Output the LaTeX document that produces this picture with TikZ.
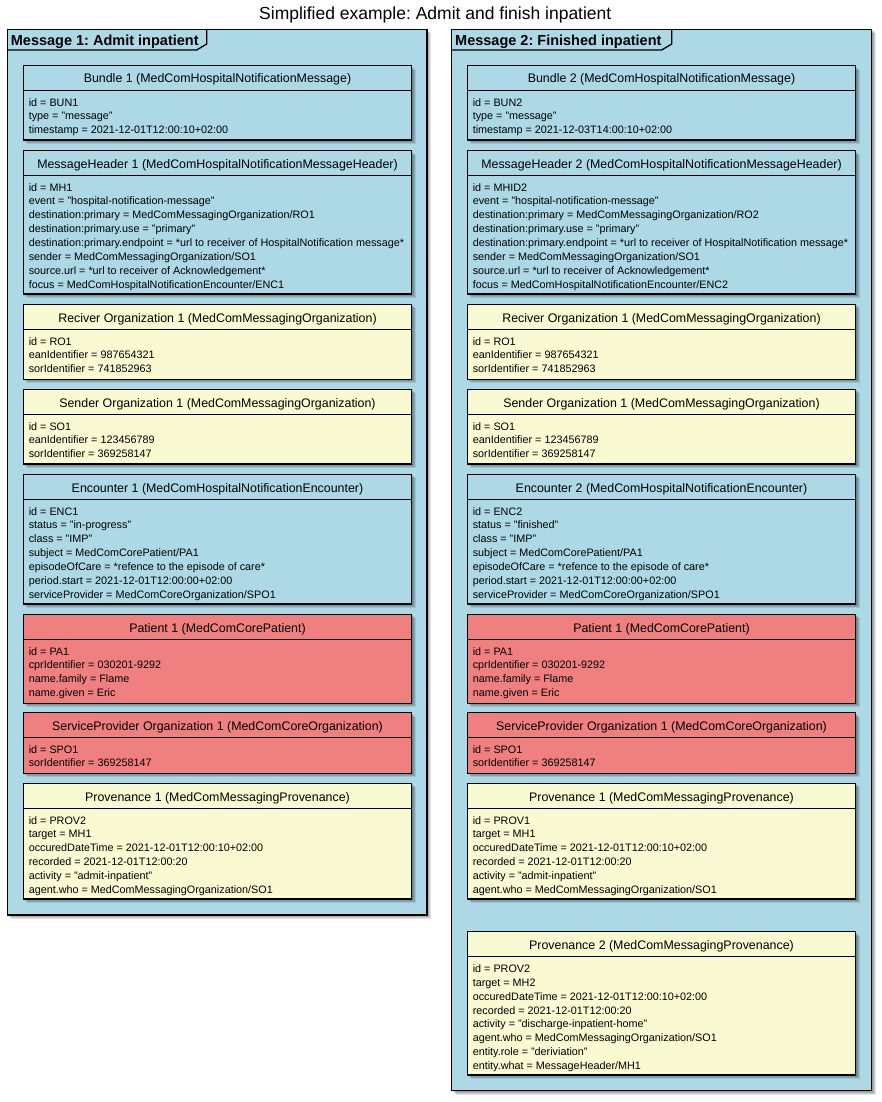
\documentclass[tikz,border=0pt]{standalone}
\usepackage{fontspec}
\setmainfont{Liberation Sans}
\frenchspacing
\definecolor{ublue}{HTML}{ADD8E6}
\definecolor{uyellow}{HTML}{FAFAD2}
\definecolor{ured}{HTML}{F08080}
\tikzset{
  umlframe/.style={draw=black, line width=1.3pt, inner sep=0pt, outer sep=0pt},
  umlline/.style={draw=black, line width=1.3pt},
  umltitle/.style={inner sep=0pt, font=\fontsize{12.4}{15}\selectfont},
  umlbody/.style={inner sep=0pt, font=\fontsize{10.8}{13.86}\selectfont},
  framelabel/.style={inner sep=0pt, font=\fontsize{14.5}{17}\selectfont\bfseries},
  maintitle/.style={inner sep=0pt, font=\fontsize{17.5}{20}\selectfont},
}
% shadow: x0 y0 x1 y1
\newcommand\umlshadow[4]{%
  \foreach \sh/\so in {1/0.12,2/0.12,3/0.12,4/0.10}{%
    \fill[black, opacity=\so] ({#1+\sh},{#2+\sh}) rectangle ({#3+\sh},{#4+\sh});}%
}
% name x0 x1 top sep bottom color title body
\newcommand\umlbox[9]{%
  \umlshadow{#2}{#4}{#3}{#6}%
  \node[umlframe, fill=#7, minimum width={#3-#2}, minimum height={#6-#4}, anchor=north west] (#1) at (#2,#4) {};
  \draw[umlline] (#2,#5) -- (#3,#5);
  \node[umltitle, anchor=base] (#1-title) at ({(#2+#3)/2},{#5-7.3}) {#8};
  \node[umlbody, anchor=base west] (#1-body) at ({#2+5.3},{#5+15.8}) {\begin{tabular}[t]{@{}l@{}}#9\end{tabular}};
}
\begin{document}
\begin{tikzpicture}[x=1pt, y=-1pt]
\useasboundingbox (0,0) rectangle (882,1102);
\fill[white] (0,0) rectangle (882,1102);
\node[maintitle, anchor=base] (title) at (435.3,19.3) {Simplified example: Admit and finish inpatient};

% ---------- frame 1 ----------
\umlshadow{7.3}{29.3}{427}{915}
\node[umlframe, fill=ublue, minimum width={427-7.3}, minimum height={915-29.3}, anchor=north west] (frameA) at (7.3,29.3) {};
\draw[umlline] (206.7,29.3) -- (206.7,44) -- (196.7,50) -- (7.3,50);
\node[framelabel, anchor=base west] (frameA-label) at (10.7,45.3) {Message 1: Admit inpatient};

% ---------- frame 2 ----------
\umlshadow{451.7}{29.3}{871.7}{1090.7}
\node[umlframe, fill=ublue, minimum width={871.7-451.7}, minimum height={1090.7-29.3}, anchor=north west] (frameB) at (451.7,29.3) {};
\draw[umlline] (671.7,29.3) -- (671.7,44) -- (661.7,50) -- (451.7,50);
\node[framelabel, anchor=base west] (frameB-label) at (455,45.3) {Message 2: Finished inpatient};

% ---------- left column ----------
\umlbox{bunA}{23.3}{411.7}{65.7}{90.3}{140}{ublue}{Bundle 1 (MedComHospitalNotificationMessage)}{id = BUN1\\ type = "message"\\ timestamp = 2021-12-01T12:00:10+02:00}
\umlbox{mhA}{23.3}{411.7}{150.7}{175.3}{294}{ublue}{MessageHeader 1 (MedComHospitalNotificationMessageHeader)}{id = MH1\\ event = "hospital-notification-message"\\ destination:primary = MedComMessagingOrganization/RO1\\ destination:primary.use = "primary"\\ destination:primary.endpoint = *url to receiver of HospitalNotification message*\\ sender = MedComMessagingOrganization/SO1\\ source.url = *url to receiver of Acknowledgement*\\ focus = MedComHospitalNotificationEncounter/ENC1}
\umlbox{roA}{23.3}{411.7}{304.3}{329.3}{379.3}{uyellow}{Reciver Organization 1 (MedComMessagingOrganization)}{id = RO1\\ eanIdentifier = 987654321\\ sorIdentifier = 741852963}
\umlbox{soA}{23.3}{411.7}{389.3}{414.3}{464}{uyellow}{Sender Organization 1 (MedComMessagingOrganization)}{id = SO1\\ eanIdentifier = 123456789\\ sorIdentifier = 369258147}
\umlbox{encA}{23.3}{411.7}{474.3}{499.3}{604}{ublue}{Encounter 1 (MedComHospitalNotificationEncounter)}{id = ENC1\\ status = "in-progress"\\ class = "IMP"\\ subject = MedComCorePatient/PA1\\ episodeOfCare = *refence to the episode of care*\\ period.start = 2021-12-01T12:00:00+02:00\\ serviceProvider = MedComCoreOrganization/SPO1}
\umlbox{paA}{23.3}{411.7}{614.3}{639.3}{703.3}{ured}{Patient 1 (MedComCorePatient)}{id = PA1\\ cprIdentifier = 030201-9292\\ name.family = Flame\\ name.given = Eric}
\umlbox{spoA}{23.3}{411.7}{712.7}{737.3}{773.3}{ured}{ServiceProvider Organization 1 (MedComCoreOrganization)}{id = SPO1\\ sorIdentifier = 369258147}
\umlbox{provA}{23.3}{411.7}{783.3}{808.3}{899}{uyellow}{Provenance 1 (MedComMessagingProvenance)}{id = PROV2\\ target = MH1\\ occuredDateTime = 2021-12-01T12:00:10+02:00\\ recorded = 2021-12-01T12:00:20\\ activity = "admit-inpatient"\\ agent.who = MedComMessagingOrganization/SO1}

% ---------- right column ----------
\umlbox{bunB}{467.3}{855.7}{65.7}{90.3}{140}{ublue}{Bundle 2 (MedComHospitalNotificationMessage)}{id = BUN2\\ type = "message"\\ timestamp = 2021-12-03T14:00:10+02:00}
\umlbox{mhB}{467.3}{855.7}{150.7}{175.3}{294}{ublue}{MessageHeader 2 (MedComHospitalNotificationMessageHeader)}{id = MHID2\\ event = "hospital-notification-message"\\ destination:primary = MedComMessagingOrganization/RO2\\ destination:primary.use = "primary"\\ destination:primary.endpoint = *url to receiver of HospitalNotification message*\\ sender = MedComMessagingOrganization/SO1\\ source.url = *url to receiver of Acknowledgement*\\ focus = MedComHospitalNotificationEncounter/ENC2}
\umlbox{roB}{467.3}{855.7}{304.3}{329.3}{379.3}{uyellow}{Reciver Organization 1 (MedComMessagingOrganization)}{id = RO1\\ eanIdentifier = 987654321\\ sorIdentifier = 741852963}
\umlbox{soB}{467.3}{855.7}{389.3}{414.3}{464}{uyellow}{Sender Organization 1 (MedComMessagingOrganization)}{id = SO1\\ eanIdentifier = 123456789\\ sorIdentifier = 369258147}
\umlbox{encB}{467.3}{855.7}{474.3}{499.3}{604}{ublue}{Encounter 2 (MedComHospitalNotificationEncounter)}{id = ENC2\\ status = "finished"\\ class = "IMP"\\ subject = MedComCorePatient/PA1\\ episodeOfCare = *refence to the episode of care*\\ period.start = 2021-12-01T12:00:00+02:00\\ serviceProvider = MedComCoreOrganization/SPO1}
\umlbox{paB}{467.3}{855.7}{614.3}{639.3}{703.3}{ured}{Patient 1 (MedComCorePatient)}{id = PA1\\ cprIdentifier = 030201-9292\\ name.family = Flame\\ name.given = Eric}
\umlbox{spoB}{467.3}{855.7}{712.7}{737.3}{773.3}{ured}{ServiceProvider Organization 1 (MedComCoreOrganization)}{id = SPO1\\ sorIdentifier = 369258147}
\umlbox{provB}{467.3}{855.7}{783.3}{808.3}{899}{uyellow}{Provenance 1 (MedComMessagingProvenance)}{id = PROV1\\ target = MH1\\ occuredDateTime = 2021-12-01T12:00:10+02:00\\ recorded = 2021-12-01T12:00:20\\ activity = "admit-inpatient"\\ agent.who = MedComMessagingOrganization/SO1}
\umlbox{provC}{467.3}{855.7}{931.7}{956.7}{1075}{uyellow}{Provenance 2 (MedComMessagingProvenance)}{id = PROV2\\ target = MH2\\ occuredDateTime = 2021-12-01T12:00:10+02:00\\ recorded = 2021-12-01T12:00:20\\ activity = "discharge-inpatient-home"\\ agent.who = MedComMessagingOrganization/SO1\\ entity.role = "deriviation"\\ entity.what = MessageHeader/MH1}
\end{tikzpicture}
\end{document}
